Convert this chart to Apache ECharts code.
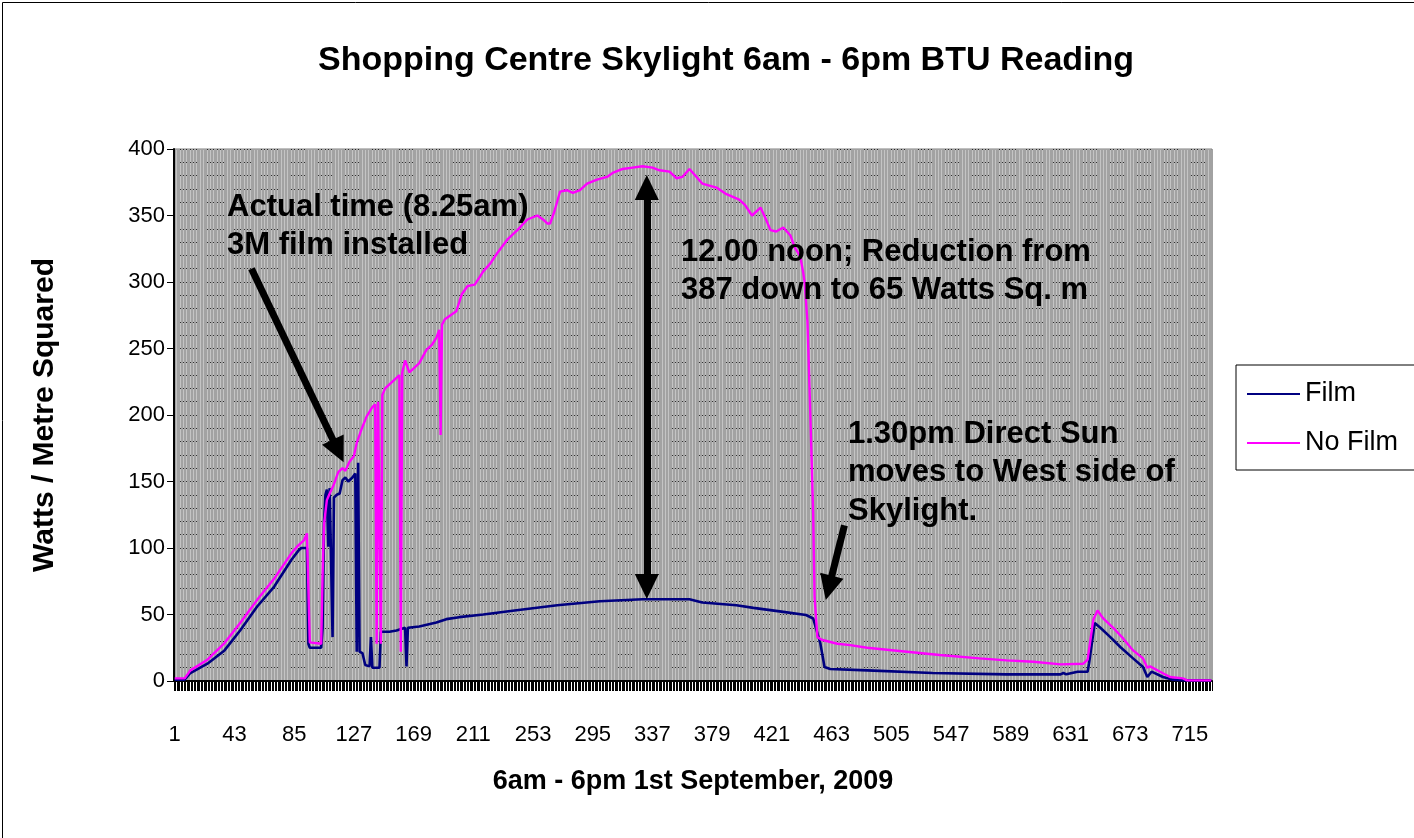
<!DOCTYPE html>
<html>
<head>
<meta charset="utf-8">
<script src="https://cdn.jsdelivr.net/npm/echarts@6/dist/echarts.min.js"></script>
<style>
html,body{margin:0;padding:0;background:#fff;}
#chart{width:1414px;height:838px;}
</style>
</head>
<body>
<div id="chart"></div>
<script>
// ---- data (minute number 1..730, value W/m²) ----
const minuteCount = 730;
const categories = Array.from({length: minuteCount}, (_, i) => String(i + 1));

const filmPoints = [
  [1,1],[8,1],[12,6],[24,13],[36,23],[47,38],[59,56],[71,71],[83,91],[88,98],[90,100],[94,100],
  [95,28],[96,25],[104,25],[105,40],[106,119],[107,140],[108,144],[109,101],[110,145],[111,145],
  [112,33],[113,138],[115,140],[117,141],[119,151],[121,153],[123,150],[124,150],[126,153],[128,156],
  [129,22],[130,164],[131,22],[133,21],[135,12],[138,11],[139,33],[140,10],[145,10],[146,37],
  [152,37],[157,38],[163,40],[164,11],[165,40],[173,41],[185,44],[192,46.5],[201,48],[218,50],
  [240,53],[270,57],[300,60],[330,61.5],[363,61.5],[372,59],[396,57],[408,55],[429,52],[445,49.6],
  [450,47],[455,28.5],[458,10.5],[462,9],[488,8],[534,6],[586,5],[624,5],[626,6],[628,5],[636,7],
  [643,7],[644,13],[648,43.6],[652,40],[659,33],[666,25.6],[675,17],[682,10.5],[685,3],[688,7],
  [696,3],[703,1],[713,0.5],[730,0.5]
];

const noFilmPoints = [
  [1,2],[8,2],[12,8],[24,16],[36,28.5],[47,43.6],[59,61],[71,77],[83,96],[87,101],[92,106],[94,111],
  [96,29],[97,28],[104,28],[105,80],[106,118],[108,136],[110,141],[113,148],[116,157],[119,160],
  [121,158],[124,165],[127,169],[129,179],[133,191],[136,199],[140,206],[142,208],[143,28],[144,210],
  [146,28],[147,215],[149,220],[152,223],[157,228],[159,230],[160,22],[161,232],[163,241],[166,232],
  [170,236],[173,239],[178,249],[182,253],[185,258],[187,264],[188,185],[189,268],[191,272],[195,275],
  [199,278],[203,291],[207,297],[212,298],[218,308],[223,314],[228,322],[235,332],[242,339],[249,347],
  [256,350],[260,347],[263,344],[265,344],[268,353],[272,368],[277,369],[281,367],[286,369],[291,374],
  [298,377],[305,379],[309,382],[316,385],[323,386],[330,387],[337,386],[342,384],[349,383],[354,378],
  [358,379],[363,385],[368,379],[372,374],[382,371],[389,366],[398,362],[402,358],[407,350],[413,356],
  [416,349],[420,339],[424,338],[429,341],[434,335],[437,326],[441,319],[443,307],[444,300],[446,270],
  [448,201],[450,126],[451,63],[453,33],[456,31],[467,28],[476,27],[488,25],[516,22],[539,19.5],
  [567,17],[586,15.5],[605,14.5],[624,12.5],[640,13],[643,16],[647,46],[650,53],[654,47],[661,40],
  [668,32],[675,23],[682,17],[685,10],[687,11],[694,7],[701,3],[710,2],[713,0.5],[730,0.5]
];

// annotation arrows in data units [minute, value]
const arrow1 = [[55,310],[116,173]];
const arrow2 = [[333,371],[333,71]];
const arrow3 = [[472,117],[461,70]];

const FONT = "'Liberation Sans', Arial, sans-serif";
const toIdx = p => [p[0] - 1, p[1]];

const chart = echarts.init(document.getElementById('chart'), null, {renderer: 'canvas'});

const arrowEnd = (p, sym) => ({coord: toIdx(p), symbol: sym});

chart.setOption({
  animation: false,
  backgroundColor: '#ffffff',
  title: {
    text: 'Shopping Centre Skylight 6am - 6pm BTU Reading',
    left: 721, top: 36, textAlign: 'center',
    textStyle: {fontFamily: FONT, fontSize: 34, fontWeight: 'bold', color: '#000', lineHeight: 40}
  },
  legend: {
    data: ['Film', 'No Film'],
    orient: 'vertical',
    left: 1236, top: 365,
    backgroundColor: '#ffffff',
    borderColor: '#000', borderWidth: 1, borderRadius: 0,
    padding: [14, 30, 12, 11],
    icon: 'rect',
    itemWidth: 53, itemHeight: 2, itemGap: 19,
    textStyle: {fontFamily: FONT, fontSize: 27, color: '#000', lineHeight: 30}
  },
  grid: {
    left: 174, right: 202, top: 149, bottom: 157,
    show: true, backgroundColor: '#c4c4c4', borderColor: '#808080', borderWidth: 1
  },
  xAxis: {
    type: 'category',
    data: categories,
    boundaryGap: true,
    name: '6am - 6pm 1st September, 2009',
    nameLocation: 'middle', nameGap: 87,
    nameTextStyle: {fontFamily: FONT, fontSize: 27, fontWeight: 'bold', color: '#000'},
    axisLine: {lineStyle: {color: '#000', width: 2}},
    axisTick: {show: true, interval: 0, length: 10, lineStyle: {color: '#000', width: 1}},
    axisLabel: {interval: 41, fontFamily: FONT, fontSize: 22, color: '#000', margin: 43},
    splitLine: {show: true, interval: 0, lineStyle: {color: '#a2a2a2', width: 1}}
  },
  yAxis: {
    type: 'value',
    min: 0, max: 400, interval: 50,
    name: 'Watts / Metre Squared',
    nameLocation: 'middle', nameGap: 114,
    nameTextStyle: {fontFamily: FONT, fontSize: 30, fontWeight: 'bold', color: '#000'},
    axisLine: {show: true, lineStyle: {color: '#000', width: 2}},
    axisTick: {show: true, length: 7, lineStyle: {color: '#000', width: 1}},
    axisLabel: {fontFamily: FONT, fontSize: 22, color: '#000', margin: 9},
    minorTick: {show: false, splitNumber: 5},
    splitLine: {show: true, lineStyle: {color: '#000', width: 1, type: [2, 1], opacity: 0.75}},
    minorSplitLine: {show: true, lineStyle: {color: '#000', width: 1, type: [2, 1], opacity: 0.75}}
  },
  series: [
    {
      name: 'Film', type: 'line',
      data: filmPoints.map(toIdx),
      symbol: 'none', showSymbol: false,
      lineStyle: {color: '#000080', width: 2.6},
      itemStyle: {color: '#000080'},
      z: 2
    },
    {
      name: 'No Film', type: 'line',
      data: noFilmPoints.map(toIdx),
      symbol: 'none', showSymbol: false,
      lineStyle: {color: '#ff00ff', width: 2.4},
      itemStyle: {color: '#ff00ff'},
      z: 3,
      markLine: {
        silent: true,
        symbolSize: [24, 25],
        label: {show: false},
        emphasis: {disabled: true},
        lineStyle: {color: '#000', width: 7, type: 'solid'},
        data: [
          [arrowEnd(arrow1[0], 'none'), arrowEnd(arrow1[1], 'triangle')],
          [arrowEnd(arrow2[0], 'triangle'), arrowEnd(arrow2[1], 'triangle')],
          [arrowEnd(arrow3[0], 'none'), arrowEnd(arrow3[1], 'triangle')]
        ]
      }
    }
  ],
  graphic: [
    {type: 'rect', left: 0, top: 0, z: 100, silent: true,
     shape: {x: 0.5, y: 0.5, width: 1430, height: 836},
     style: {fill: 'none', stroke: '#000', lineWidth: 1}},
    {type: 'text', left: 227, top: 188, z: 50, silent: true,
     style: {text: 'Actual time (8.25am)\n3M film installed', font: 'bold 31px ' + FONT, fill: '#000', lineHeight: 38.5}},
    {type: 'text', left: 681, top: 233, z: 50, silent: true,
     style: {text: '12.00 noon; Reduction from\n387 down to 65 Watts Sq. m', font: 'bold 31px ' + FONT, fill: '#000', lineHeight: 38.5}},
    {type: 'text', left: 848, top: 415, z: 50, silent: true,
     style: {text: '1.30pm Direct Sun\nmoves to West side of\nSkylight.', font: 'bold 31px ' + FONT, fill: '#000', lineHeight: 38.5}}
  ]
});
</script>
</body>
</html>
